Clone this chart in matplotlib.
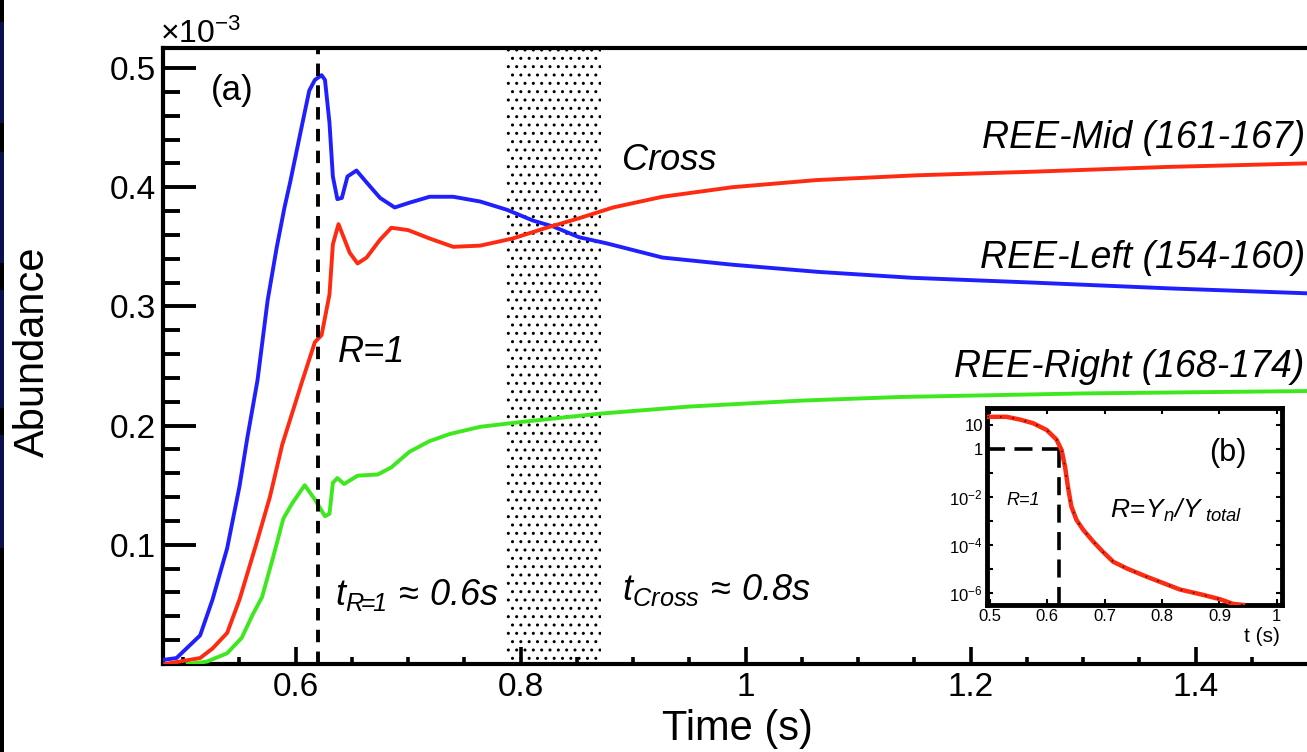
"""Abundance of REE groups vs time, with R = Yn/Ytotal inset."""
import matplotlib
matplotlib.use("Agg")
import matplotlib.pyplot as plt
from matplotlib.patches import Rectangle
from matplotlib.ticker import FixedLocator, MultipleLocator, NullFormatter

plt.rcParams["font.family"] = ["Liberation Sans", "DejaVu Sans"]
plt.rcParams["mathtext.fontset"] = "custom"
plt.rcParams["mathtext.rm"] = "Liberation Sans"
plt.rcParams["mathtext.it"] = "Liberation Sans:italic"
plt.rcParams["mathtext.sf"] = "Liberation Sans:italic"   # used for italic digits
plt.rcParams["mathtext.bf"] = "Liberation Sans:bold"
plt.rcParams["hatch.linewidth"] = 1.0

# --- data (abundance in units of 1e-3) ---
t_left = [0.479, 0.494, 0.515, 0.526, 0.539, 0.550, 0.557, 0.566, 0.575, 0.583,
          0.590, 0.595, 0.606, 0.612, 0.617, 0.623, 0.626, 0.630, 0.633, 0.637,
          0.641, 0.646, 0.654, 0.663, 0.675, 0.688, 0.701, 0.719, 0.740, 0.764,
          0.788, 0.811, 0.829, 0.852, 0.876, 0.926, 0.988, 1.064, 1.148, 1.255,
          1.380, 1.499]
y_left = [0.003, 0.005, 0.024, 0.054, 0.097, 0.149, 0.190, 0.238, 0.305, 0.349,
          0.383, 0.404, 0.454, 0.481, 0.490, 0.494, 0.490, 0.454, 0.409, 0.390,
          0.391, 0.409, 0.414, 0.404, 0.391, 0.383, 0.387, 0.392, 0.392, 0.388,
          0.381, 0.372, 0.367, 0.358, 0.353, 0.341, 0.335, 0.329, 0.324, 0.320,
          0.315, 0.311]

t_mid = [0.484, 0.515, 0.526, 0.539, 0.550, 0.565, 0.577, 0.588, 0.606, 0.617,
         0.623, 0.630, 0.633, 0.638, 0.648, 0.655, 0.663, 0.675, 0.685, 0.700,
         0.719, 0.740, 0.764, 0.793, 0.823, 0.852, 0.882, 0.926, 0.988, 1.063,
         1.152, 1.255, 1.374, 1.499]
y_mid = [0.000, 0.005, 0.013, 0.026, 0.054, 0.101, 0.140, 0.184, 0.238, 0.270,
         0.276, 0.310, 0.352, 0.369, 0.345, 0.336, 0.341, 0.356, 0.366, 0.364,
         0.357, 0.350, 0.351, 0.357, 0.366, 0.374, 0.383, 0.392, 0.400, 0.406,
         0.410, 0.413, 0.417, 0.420]

t_right = [0.504, 0.521, 0.539, 0.552, 0.562, 0.570, 0.580, 0.589, 0.597, 0.608,
           0.617, 0.626, 0.630, 0.633, 0.637, 0.643, 0.655, 0.673, 0.685, 0.701,
           0.719, 0.737, 0.764, 0.800, 0.870, 0.950, 1.050, 1.137, 1.300, 1.499]
y_right = [0.000, 0.002, 0.009, 0.022, 0.042, 0.056, 0.090, 0.122, 0.135, 0.150,
           0.138, 0.124, 0.126, 0.152, 0.156, 0.151, 0.158, 0.159, 0.165, 0.178,
           0.187, 0.193, 0.199, 0.203, 0.210, 0.216, 0.221, 0.224, 0.227, 0.229]

# inset: R = Yn / Ytotal
t_ratio = [0.496, 0.529, 0.552, 0.575, 0.599, 0.616, 0.625, 0.631, 0.636, 0.642,
           0.651, 0.663, 0.680, 0.697, 0.715, 0.738, 0.773, 0.796, 0.831, 0.872,
           0.901, 0.924, 0.941]
ratio = [22, 22, 17, 12, 6.2, 2.5, 0.9, 0.18, 0.027, 4e-3,
         1.1e-3, 4.2e-4, 1.4e-4, 5.2e-5, 2.0e-5, 1.07e-5, 4.8e-6, 2.95e-6, 1.4e-6, 8.3e-7,
         5.5e-7, 3.5e-7, 3.2e-7]

t_r1 = 0.62
cross_band = (0.787, 0.871)

x_ticks = [0.6, 0.8, 1.0, 1.2, 1.4]
x_labels = ["0.6", "0.8", "1", "1.2", "1.4"]
y_ticks = [0.1, 0.2, 0.3, 0.4, 0.5]
y_labels = ["0.1", "0.2", "0.3", "0.4", "0.5"]
in_x_ticks = [0.5, 0.6, 0.7, 0.8, 0.9, 1.0]
in_x_labels = ["0.5", "0.6", "0.7", "0.8", "0.9", "1"]
in_y_ticks = [1e-6, 1e-4, 1e-2, 1, 10]
in_y_labels = ["$10^{-6}$", "$10^{-4}$", "$10^{-2}$", "1", "10"]

# dark slide-edge strip on the far left (y ranges in px, colour)
edge_strip = [(0, 22, "black"), (22, 123, "#0b114f"), (123, 152, "black"),
              (152, 263, "#0b114f"), (263, 290, "black"), (290, 408, "#0b114f"),
              (408, 435, "black"), (435, 548, "#0b114f"), (548, 752, "black")]

W, H = 1307, 752
BLUE, RED, GREEN = "#2020ff", "#ff2a12", "#3ee81e"

fig = plt.figure(figsize=(W / 100, H / 100), dpi=100)
ax = fig.add_axes([163 / W, 1 - 664 / H, 1 - 163 / W, (664 - 48) / H])

ax.axvspan(*cross_band, facecolor="white", edgecolor="black", lw=0, hatch="..", zorder=1)
ax.plot(t_left, y_left, color=BLUE, lw=2.8, zorder=3)
ax.plot(t_mid, y_mid, color=RED, lw=2.8, zorder=3)
ax.plot(t_right, y_right, color=GREEN, lw=2.8, zorder=3)
ax.axvline(t_r1, color="black", lw=2.8, ls=(0, (3.2, 2.4)), zorder=4)

ax.set_xlim(0.482, 1.499)
ax.set_ylim(0, 0.5168)
ax.xaxis.set_major_locator(FixedLocator(x_ticks))
ax.set_xticklabels(x_labels)
ax.xaxis.set_minor_locator(MultipleLocator(0.05))
ax.yaxis.set_major_locator(FixedLocator(y_ticks))
ax.set_yticklabels(y_labels)
ax.yaxis.set_minor_locator(MultipleLocator(0.02))
ax.tick_params(axis="x", which="major", direction="in", length=12, width=2.6,
               labelsize=24, pad=6)
ax.tick_params(axis="x", which="minor", direction="in", length=5, width=2.6)
ax.tick_params(axis="y", which="major", direction="in", length=24, width=2.8,
               labelsize=24, pad=5)
ax.tick_params(axis="y", which="minor", direction="in", length=12, width=2.8)
ax.spines["right"].set_visible(False)
for s in ("left", "top", "bottom"):
    ax.spines[s].set_linewidth(3)

# annotations
ax.text(0.525, 0.473, "(a)", fontsize=25)
ax.text(0.6373, 0.2534, "R=1", fontsize=26, style="italic")
ax.text(0.8898, 0.4144, "Cross", fontsize=26, style="italic")
ax.text(1.497, 0.433, "REE-Mid (161-167)", fontsize=27, style="italic", ha="right")
ax.text(1.497, 0.332, "REE-Left (154-160)", fontsize=27, style="italic", ha="right")
ax.text(1.497, 0.241, "REE-Right (168-174)", fontsize=27, style="italic", ha="right")
ax.text(0.6347, 0.0495,
        r"$\mathsf{t}_{\mathsf{R}\!\!=\!\!\mathsf{1}}\,\approx\,\mathsf{0.6s}$", fontsize=26)
ax.text(0.8898, 0.0537,
        r"$\mathsf{t}_{\mathsf{Cross}}\,\approx\,\mathsf{0.8s}$", fontsize=26)

fig.text(737 / W, 1 - 729 / H, "Time (s)", fontsize=30, ha="center", va="center")
fig.text(33 / W, 1 - 352 / H, "Abundance", fontsize=30, rotation=90,
         ha="center", va="center")
fig.text(160 / W, 1 - 43 / H, r"$\times10^{-3}$", fontsize=23, va="baseline")

for y0, y1, c in edge_strip:
    fig.patches.append(Rectangle((0, 1 - y1 / H), 4 / W, (y1 - y0) / H,
                                 transform=fig.transFigure, color=c, lw=0))

# --- inset (b) ---
axi = fig.add_axes([987 / W, 1 - 605 / H, 295 / W, 197 / H])
axi.set_yscale("log")
axi.plot(t_ratio, ratio, color=RED, lw=3.2, zorder=3)
axi.plot(t_ratio, ratio, color="black", lw=1.0, ls=(0, (1, 8)), zorder=4)
axi.plot([0.495, t_r1], [1, 1], color="black", lw=2.6, ls=(0, (5, 2.6)), zorder=2)
axi.plot([t_r1, t_r1], [10 ** -6.5, 1], color="black", lw=2.6, ls=(0, (5, 2.6)), zorder=2)
axi.set_xlim(0.495, 1.009)
axi.set_ylim(10 ** -6.5, 10 ** 1.71)
axi.xaxis.set_major_locator(FixedLocator(in_x_ticks))
axi.set_xticklabels(in_x_labels)
axi.xaxis.set_minor_locator(FixedLocator([]))
axi.yaxis.set_major_locator(FixedLocator(in_y_ticks))
axi.set_yticklabels(in_y_labels)
axi.yaxis.set_minor_locator(FixedLocator([1e-5, 1e-3, 1e-1]))
axi.yaxis.set_minor_formatter(NullFormatter())
axi.tick_params(which="both", direction="in", top=True, right=True,
                length=4, width=1.5, labelsize=12, pad=3)
for s in axi.spines.values():
    s.set_linewidth(3.5)
axi.text(0.5575, 10 ** -2.125, "R=1", fontsize=13, style="italic",
         ha="center", va="center")
axi.text(0.9146, 10 ** -0.167, "(b)", fontsize=22, ha="center", va="center")
axi.text(0.709, 10 ** -2.875,
         r"$\mathsf{R}\!=\!\mathsf{Y}_{\mathsf{n}}\mathsf{/Y}_{\mathsf{\ total}}$",
         fontsize=19)
axi.text(0.993, -0.19, "t (s)", fontsize=15, ha="right", transform=axi.transAxes)

fig.savefig("out.png", dpi=100)
